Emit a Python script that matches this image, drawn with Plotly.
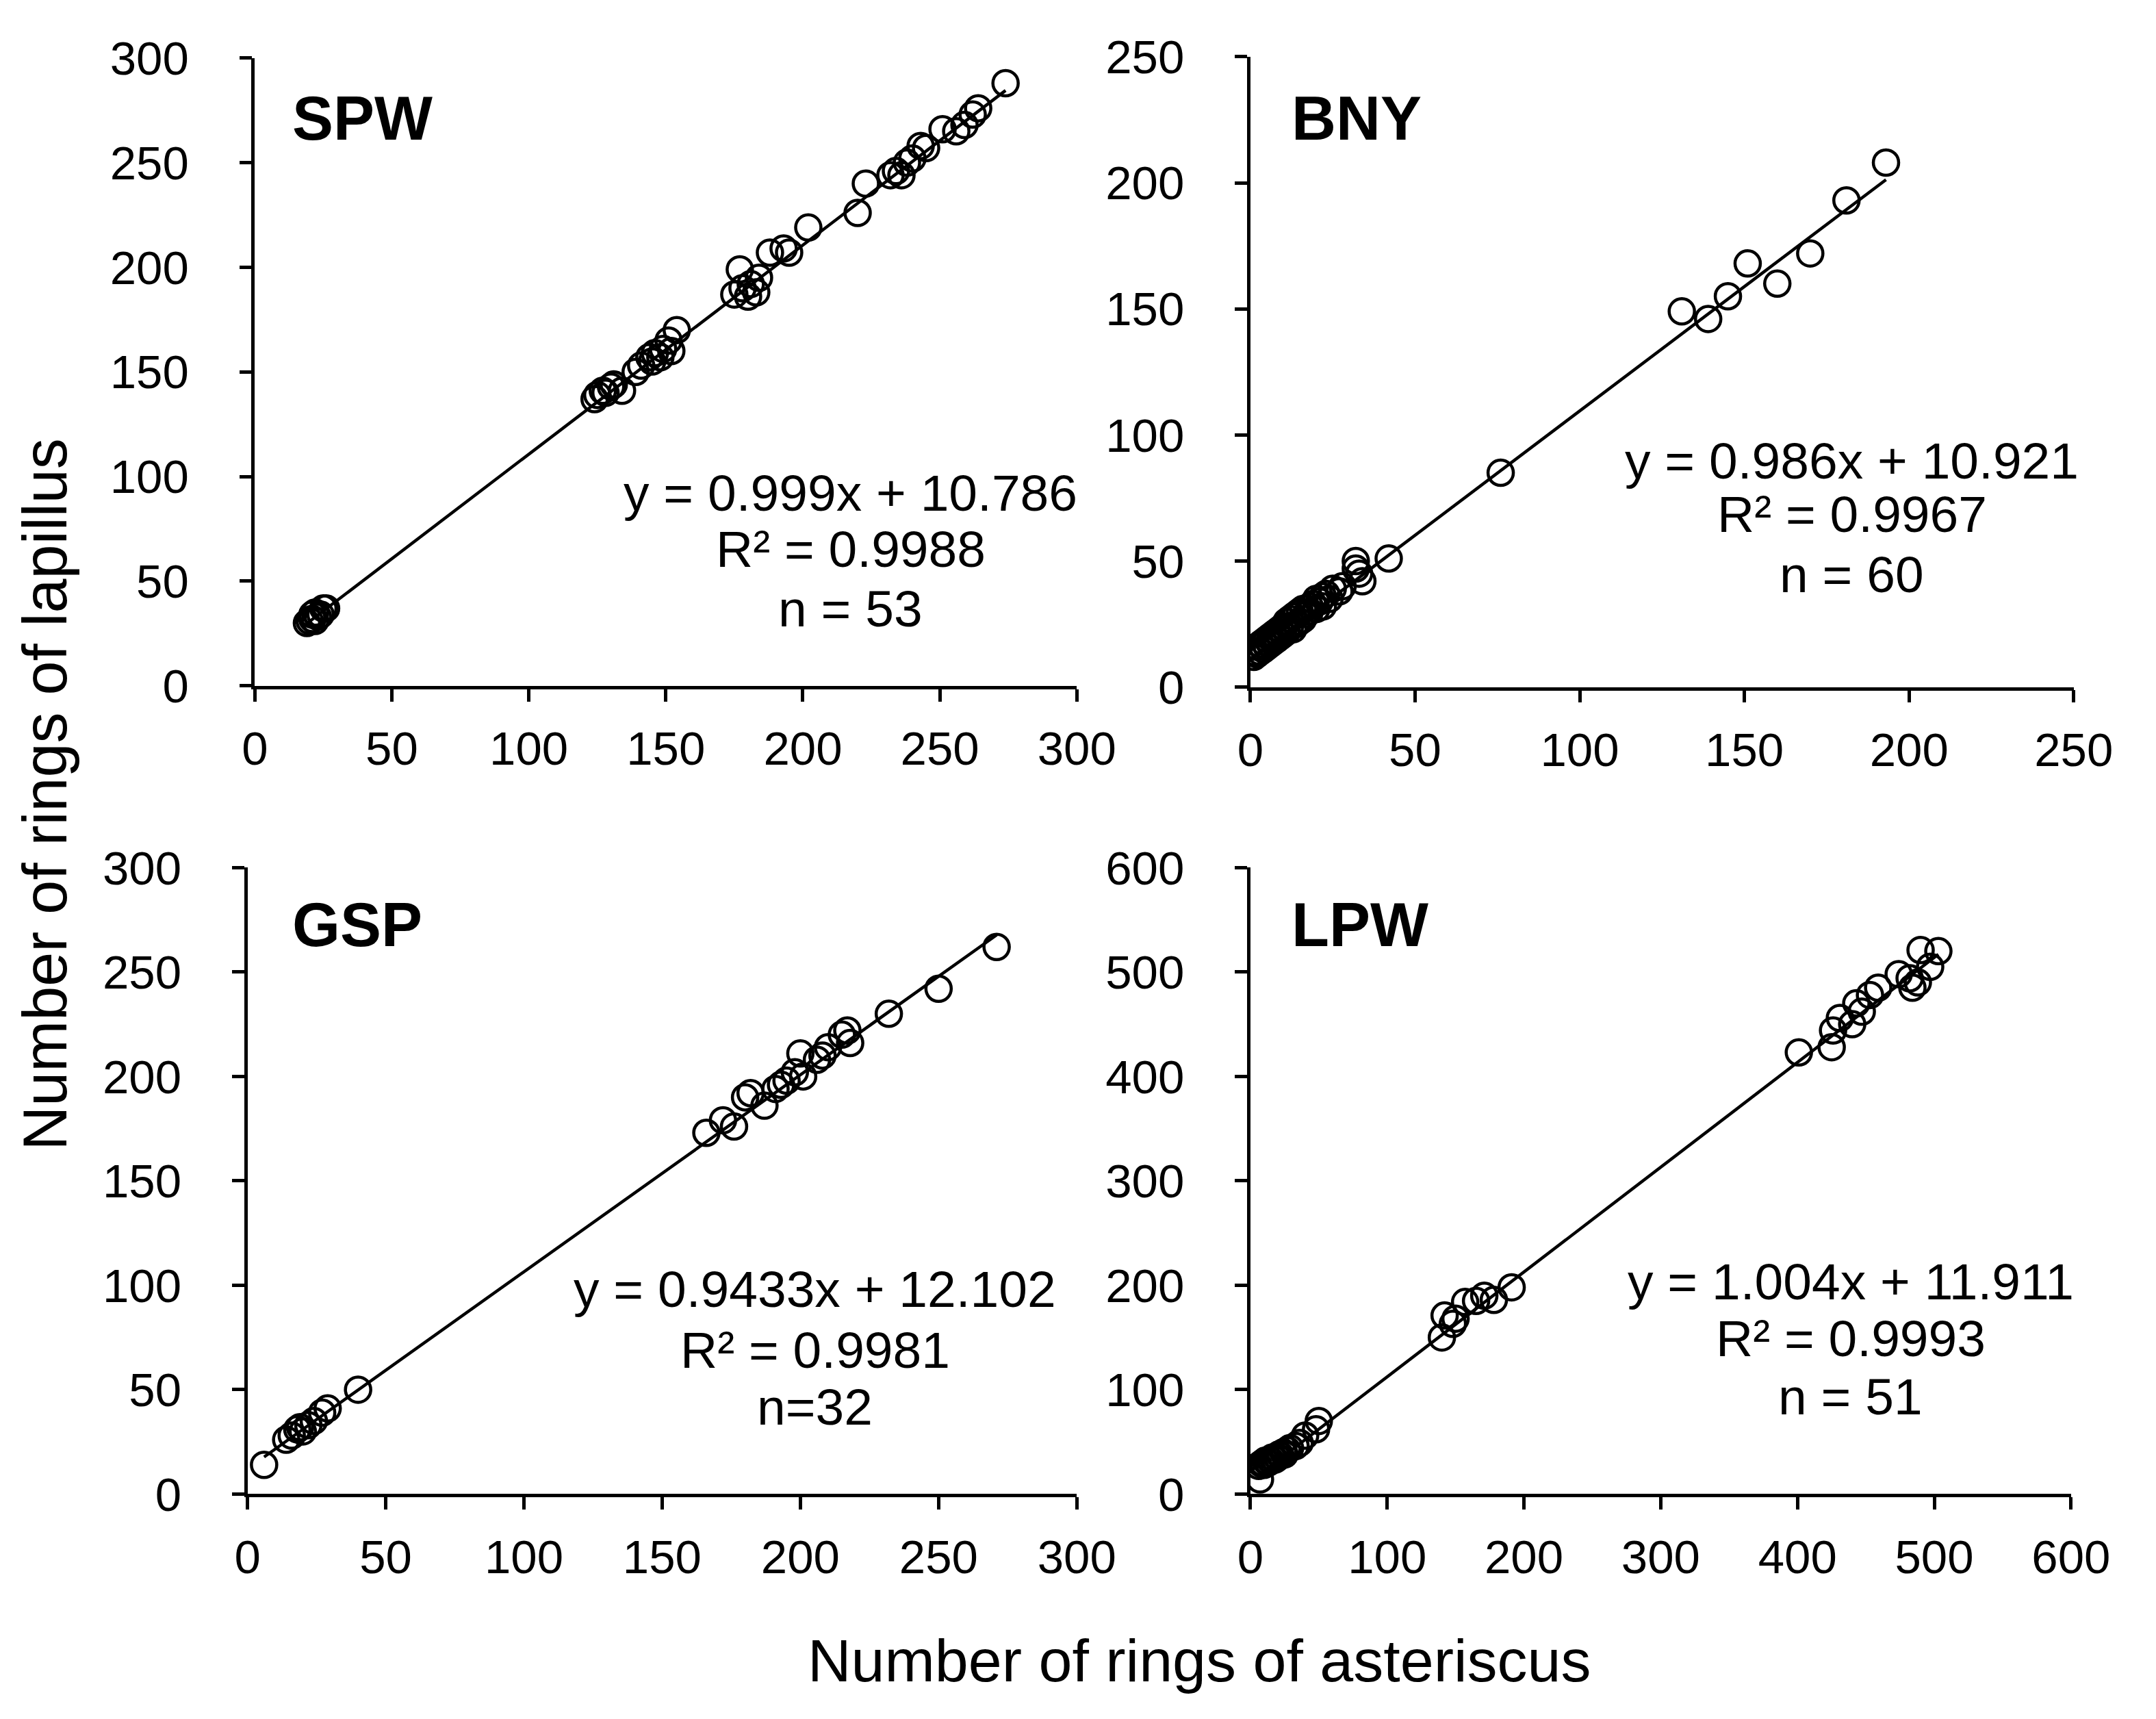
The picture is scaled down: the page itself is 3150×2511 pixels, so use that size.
import plotly.graph_objects as go

W, H = 3150, 2511

# ---------------- data ----------------
spw_x = [19, 20, 21, 21, 22, 22, 23, 24, 25, 26,
         124, 125, 127, 128, 130, 131, 134,
         139, 141, 144, 145, 146, 148, 149, 151, 152, 154,
         175, 177, 178, 180, 181, 183, 184, 188, 193,
         195, 202, 220, 223,
         232, 234, 236, 238, 240,
         243, 245, 251, 256, 259, 262,
         264, 274]
spw_y = [30, 31, 32, 34, 31, 35, 33, 34, 37, 37,
         137, 139, 141, 140, 143, 144, 141,
         150, 153, 157, 155, 159, 157, 161, 165, 160, 170,
         187, 199, 190, 186, 192, 188, 195, 207, 209,
         207, 219, 226, 240,
         244, 246, 244, 250, 252,
         258, 257, 266, 265, 268, 273,
         276, 288]

bny_x = [131, 139, 145, 151, 160, 170, 181, 193, 76, 42,
         32, 32, 33, 34, 28, 27, 25,
         1, 1, 2, 2, 3, 3, 4, 4, 5, 5, 6, 6, 7, 7, 8, 8,
         9, 9, 10, 10, 11, 11, 12, 12, 13, 13, 14, 14, 15, 15, 16, 16,
         17, 18, 18, 19, 20, 20, 21, 22, 22, 23, 24]
bny_y = [149, 146, 155, 168, 160, 172, 193, 208, 85, 51,
         50, 47, 45, 42, 40, 38, 39,
         12, 14, 13, 16, 14, 17, 15, 18, 16, 19, 17, 20, 18, 21, 19, 22,
         20, 23, 21, 24, 22, 26, 24, 27, 23, 28, 25, 29, 26, 30, 27, 31,
         29, 32, 30, 33, 31, 35, 34, 36, 32, 37, 35]

gsp_x = [6, 14, 16, 18, 19, 20, 22, 24, 27, 29, 40,
         166, 172, 176, 180, 182, 187, 191, 193, 195, 198, 200, 201,
         206, 208, 210, 215, 217, 218, 232, 250, 271]
gsp_y = [14, 26, 28, 31, 32, 30, 33, 35, 39, 41, 50,
         173, 179, 176, 190, 192, 186, 194, 196, 198, 202, 211, 200,
         208, 210, 214, 220, 222, 216, 230, 242, 262]

lpw_x = [7, 6, 8, 9, 10, 11, 12, 13, 14, 15, 16, 17, 18, 19, 20, 21, 22,
         24, 25, 27, 29, 33, 36, 40, 48, 50,
         140, 142, 148, 150, 157, 165, 171, 178, 191,
         401, 425, 426, 431, 440, 443, 447, 453, 459, 474, 482, 484, 488,
         490, 497, 503]
lpw_y = [14, 27, 29, 30, 28, 32, 31, 30, 33, 32, 35, 34, 33, 36, 35, 38, 37,
         40, 38, 42, 44, 46, 49, 56, 62, 70,
         150, 171, 163, 168, 184, 185, 190, 186, 198,
         423, 428, 444, 456, 450, 470, 462, 478, 485, 498, 494, 485, 490,
         521, 505, 520]

panel_names = ["SPW", "BNY", "GSP", "LPW"]
slopes = [0.999, 0.986, 0.9433, 1.004]
intercepts = [10.786, 10.921, 12.102, 11.911]
eq_lines = [
    ["y = 0.999x + 10.786", "R² = 0.9988", "n = 53"],
    ["y = 0.986x + 10.921", "R² = 0.9967", "n = 60"],
    ["y = 0.9433x + 12.102", "R² = 0.9981", "n=32"],
    ["y = 1.004x + 11.911", "R² = 0.9993", "n = 51"],
]
axis_max = [300, 250, 300, 600]
axis_dtick = [50, 50, 50, 100]
x_title = "Number of rings of asteriscus"
y_title = "Number of rings of lapillus"

xs = [spw_x, bny_x, gsp_x, lpw_x]
ys = [spw_y, bny_y, gsp_y, lpw_y]

# ---------------- layout geometry (pixels) ----------------
px_dom = [  # (x0, x1, ytop, ybottom) of each plot area
    (354, 1585, 40, 986),
    (1845, 3078, 38, 988),
    (343, 1585, 1260, 2204),
    (1845, 3074, 1260, 2204),
]
label_pos = [(408, 131), (1905, 131), (408, 1346), (1905, 1346)]
eq_pos = [
    (1246, [695, 780, 870]),
    (2746, [647, 727, 818]),
    (1193, [1895, 1987, 2073]),
    (2744, [1884, 1969, 2057]),
]

FONT = "Liberation Sans, Arial, sans-serif"

fig = go.Figure()
layout = dict(
    width=W, height=H,
    margin=dict(l=0, r=0, t=0, b=0),
    paper_bgcolor="white", plot_bgcolor="white",
    showlegend=False,
    font=dict(family=FONT, color="black", size=69),
)
annotations = []

for i in range(4):
    ax = "" if i == 0 else str(i + 1)
    x0, x1, yt, yb = px_dom[i]
    xd = [x0 / W, x1 / W]
    yd = [1 - yb / H, 1 - yt / H]
    common = dict(
        range=[0, axis_max[i]], dtick=axis_dtick[i], tick0=0,
        showline=True, linecolor="black", linewidth=4.5,
        ticks="outside", ticklen=18, tickwidth=4.5, tickcolor="black",
        showgrid=False, zeroline=False,
        tickfont=dict(family=FONT, size=69, color="black"),
        fixedrange=True,
    )
    layout["xaxis" + ax] = dict(common, domain=xd, anchor="y" + ax,
                                ticklabelstandoff=10)
    layout["yaxis" + ax] = dict(common, domain=yd, anchor="x" + ax,
                                ticklabelstandoff=60)

    # regression line across the data range
    lx = [min(xs[i]), max(xs[i])]
    ly = [slopes[i] * v + intercepts[i] for v in lx]
    fig.add_trace(go.Scatter(x=lx, y=ly, mode="lines",
                             line=dict(color="black", width=4.5),
                             xaxis="x" + ax, yaxis="y" + ax,
                             hoverinfo="skip"))
    fig.add_trace(go.Scatter(x=xs[i], y=ys[i], mode="markers",
                             marker=dict(symbol="circle", size=37,
                                         color="rgba(0,0,0,0)",
                                         line=dict(color="black", width=4.5)),
                             xaxis="x" + ax, yaxis="y" + ax))

    lx_, ly_ = label_pos[i]
    annotations.append(dict(text="<b>%s</b>" % panel_names[i],
                            x=lx_ / W, y=1 - ly_ / H, xref="paper", yref="paper",
                            xanchor="left", yanchor="middle", showarrow=False,
                            font=dict(family=FONT, size=90, color="black")))
    ex, eys = eq_pos[i]
    for t, ey in zip(eq_lines[i], eys):
        annotations.append(dict(text=t, x=ex / W, y=1 - ey / H,
                                xref="paper", yref="paper",
                                xanchor="center", yanchor="middle",
                                showarrow=False,
                                font=dict(family=FONT, size=75, color="black")))

annotations.append(dict(text=x_title, x=1768 / W, y=1 - 2455 / H,
                        xref="paper", yref="paper", xanchor="center",
                        yanchor="middle", showarrow=False,
                        font=dict(family=FONT, size=88, color="black")))
annotations.append(dict(text=y_title, x=40 / W, y=1 - 1150 / H,
                        xref="paper", yref="paper", xanchor="center",
                        yanchor="middle", showarrow=False, textangle=-90,
                        font=dict(family=FONT, size=90, color="black")))

layout["annotations"] = annotations
fig.update_layout(**layout)
fig.write_html("out.html")
